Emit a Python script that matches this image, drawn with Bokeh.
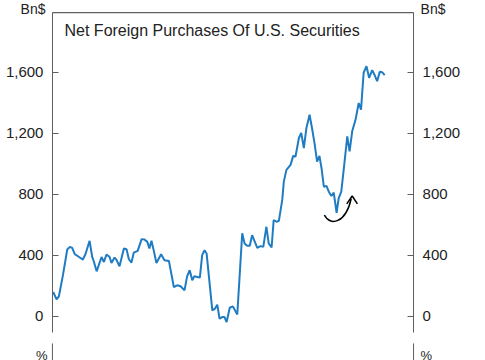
from bokeh.plotting import figure
from bokeh.models import (Range1d, LinearAxis, FixedTicker, NumeralTickFormatter, Label)
from bokeh.embed import file_html
from bokeh.resources import INLINE

# ---- data (months since start, Bn$) ----
months = [0.0, 1.3, 2.2, 3.8, 5.4, 6.4, 7.3, 8.3, 9.5, 10.8, 11.4, 12.4, 14.0, 15.0, 15.6,
          16.7, 18.6, 19.5, 20.5, 21.7, 22.4, 23.6, 24.3, 25.5, 27.2, 28.2, 29.1, 30.1,
          31.0, 32.5, 34.0, 35.1, 36.2, 37.0, 37.8, 38.7, 39.7, 41.5, 42.8, 44.5, 46.4,
          47.7, 49.0, 50.5, 51.5, 52.5, 53.5, 54.3, 55.4, 56.4, 57.3, 58.2, 59.0, 61.2,
          62.2, 63.1, 64.0, 65.0, 65.9, 66.7, 67.9, 69.1, 70.8, 72.7, 73.6, 74.6, 75.6,
          76.5, 78.5, 79.7, 80.8, 82.0, 82.9, 84.0, 84.8, 85.9, 86.8, 88.1, 88.7, 89.7,
          91.3, 92.3, 93.2, 94.5, 95.4, 96.4, 97.4, 98.6, 99.6, 100.5, 101.5, 102.4,
          103.2, 104.1, 105.1, 106.0, 107.0, 107.9, 109.0, 109.8, 110.8, 111.8, 113.1,
          114.0, 115.0, 116.3, 117.5, 118.4, 119.4, 120.5, 121.5, 122.7, 123.7, 124.6,
          125.6, 126.5, 127.5]
purchases = [160, 112, 132, 276, 439, 456, 450, 408, 395, 380, 373, 408, 496, 390, 362,
             296, 390, 357, 406, 390, 351, 386, 373, 329, 446, 441, 375, 353,
             419, 430, 507, 505, 489, 446, 496, 430, 351, 408, 369, 364, 193,
             204, 198, 171, 263, 303, 237, 263, 259, 255, 402, 434, 413, 40,
             51, 77, -15, -4, -4, -37, 57, 66, 13, 545, 479, 463, 463,
             533, 450, 461, 456, 588, 479, 452, 632, 621, 627, 764, 884, 961,
             994, 1053, 1049, 1170, 1203, 1104, 1236, 1323, 1229, 1137, 1016, 1053,
             972, 851, 856, 818, 790, 812, 680, 775, 818, 972, 1181,
             1082, 1214, 1291, 1400, 1356, 1598, 1641, 1565, 1615, 1580, 1543,
             1604, 1602, 1582]
y_ticks = [0, 400, 800, 1200, 1600]
title_text = "Net Foreign Purchases Of U.S. Securities"
unit_text = "Bn$"
lower_unit_text = "%"
lower_title_text = "World Largest Pension Fund Hedge Ratio"

# annotation arrow (curved, pointing up-right)
arrow_curve = dict(x0=104.3, y0=665, cx0=106.5, cy0=590, cx1=112.5, cy1=610, x1=114.6, y1=772)
arrow_head_xs = [[112.9, 115.0, 117.0]]
arrow_head_ys = [[738, 790, 738]]

# panel extent (data units) and full canvas extent
X0, X1 = -0.3, 138.6
Y0, Y1 = -105, 1993
CX0, CX1 = -20.27, 166.27
CY0, CY1 = -289, 2072
LOWER_TOP = -177

FONT = "Liberation Sans"
TXT = "#222222"
AX = "#5f5f5f"
BLUE = "#1f7cc2"

p = figure(width=485, height=360, output_backend="svg", toolbar_location=None,
           x_range=Range1d(CX0, CX1), y_range=Range1d(CY0, CY1),
           x_axis_location=None, y_axis_location=None, min_border=0)
p.title.visible = False
p.outline_line_color = None
p.grid.visible = False
p.background_fill_color = "white"
p.border_fill_color = "white"

def make_axis(loc):
    ax = LinearAxis(fixed_location=loc, bounds=(Y0, Y1))
    ax.ticker = FixedTicker(ticks=y_ticks)
    ax.formatter = NumeralTickFormatter(format="0,0")
    ax.axis_line_color = AX
    ax.axis_line_width = 1
    ax.major_tick_line_color = AX
    ax.major_tick_in = 6
    ax.major_tick_out = 0
    ax.minor_tick_line_color = None
    ax.major_label_standoff = 9
    ax.major_label_text_font = FONT
    ax.major_label_text_font_size = "15px"
    ax.major_label_text_color = TXT
    return ax

p.add_layout(make_axis(X0), "left")
p.add_layout(make_axis(X1), "right")

# top border of the panel
p.line([X0, X1], [Y1, Y1], line_color=AX, line_width=1.2)
# start of the lower panel's side lines
p.segment(x0=[X0, X1], y0=[LOWER_TOP, LOWER_TOP],
          x1=[X0, X1], y1=[CY0, CY0], line_color=AX, line_width=1)

p.line(months, purchases, line_color=BLUE, line_width=2)

p.bezier(line_color="black", line_width=1.5, **{k: [v] for k, v in arrow_curve.items()})
p.multi_line(arrow_head_xs, arrow_head_ys, line_color="black", line_width=1.5)

def lab(x, y, text, size, align):
    p.add_layout(Label(x=x, y=y, text=text, text_font=FONT, text_font_size=size,
                       text_color=TXT, text_align=align, text_baseline="alphabetic"))

lab(4.35, 1875, title_text, "16px", "left")
lab(-2.96, 2019, unit_text, "14px", "right")
lab(141.3, 2019, unit_text, "14px", "left")
lab(-2.2, -256, lower_unit_text, "13px", "right")
lab(141.3, -256, lower_unit_text, "13px", "left")
lab(3.96, -341, lower_title_text, "16px", "left")

open("out.html", "w").write(file_html(p, INLINE))
